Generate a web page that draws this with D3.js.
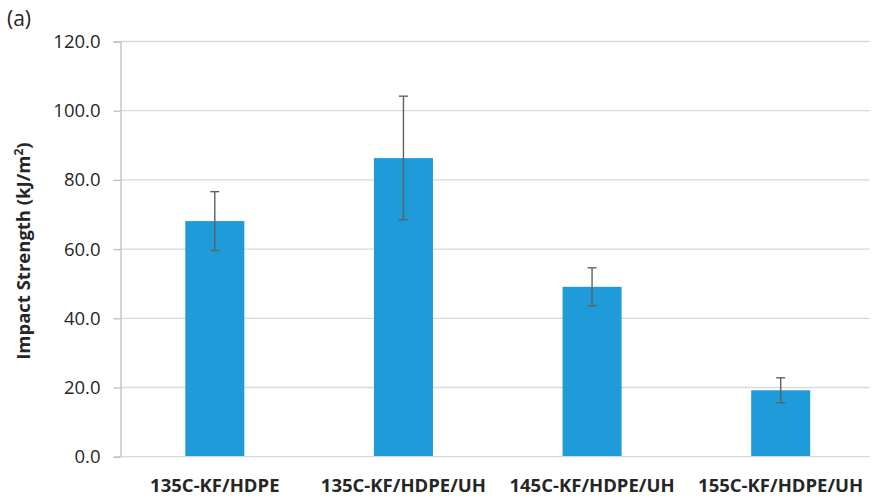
<!DOCTYPE html>
<html>
<head>
<meta charset="utf-8">
<script src="https://cdn.jsdelivr.net/npm/d3@7"></script>
<style>
  html, body { margin: 0; padding: 0; background: #fff; }
  svg { display: block; }
</style>
</head>
<body>
<svg id="chart" width="874" height="501"></svg>
<script>
// Impact strength per processing condition (mean with error range)
const categories = ["135C-KF/HDPE", "135C-KF/HDPE/UH", "145C-KF/HDPE/UH", "155C-KF/HDPE/UH"];
const values = [68.1, 86.3, 49.1, 19.2];
const errLow = [59.6, 68.5, 43.6, 15.6];
const errHigh = [76.6, 104.2, 54.6, 22.8];
const yTicks = [0, 20, 40, 60, 80, 100, 120];

const svg = d3.select("#chart");
const plotLeft = 120.5, plotRight = 875, plotTop = 41.5, plotBottom = 456.7;
const font = "'Open Sans', 'DejaVu Sans', sans-serif";

const x = d3.scaleBand().domain(categories).range([plotLeft, plotRight]).paddingInner(0.687).paddingOuter(0.3435);
const y = d3.scaleLinear().domain([0, 120]).range([plotBottom, plotTop]);

// horizontal gridlines
svg.append("g").selectAll("line").data(yTicks.filter(d => d > 0)).join("line")
  .attr("x1", plotLeft).attr("x2", 870)
  .attr("y1", d => y(d)).attr("y2", d => y(d))
  .attr("stroke", "#d9d9d9").attr("stroke-width", 1.3);

// y axis with outward ticks
const yAxis = d3.axisLeft(y).tickValues(yTicks).tickSize(7).tickPadding(13).tickFormat(d3.format(".1f"));
const gy = svg.append("g").attr("transform", `translate(${plotLeft},0)`).call(yAxis);
gy.attr("font-size", null).attr("font-family", null);
gy.select(".domain").attr("stroke", "#bfbfbf").attr("stroke-width", 1.3);
gy.selectAll(".tick line").attr("stroke", "#bfbfbf").attr("stroke-width", 1.3);
gy.selectAll(".tick text").attr("font-family", font).attr("font-size", 18.5).attr("fill", "#262626");

// bars
svg.append("g").selectAll("rect").data(categories).join("rect")
  .attr("x", d => x(d))
  .attr("width", x.bandwidth())
  .attr("y", (d, i) => y(values[i]))
  .attr("height", (d, i) => y(0) - y(values[i]))
  .attr("fill", "#1e9bd8");

// baseline
svg.append("line").attr("x1", plotLeft).attr("x2", 870).attr("y1", y(0)).attr("y2", y(0))
  .attr("stroke", "#d9d9d9").attr("stroke-width", 1.3);

// error bars
const eg = svg.append("g").attr("stroke", "#5f6163").attr("stroke-width", 1.4);
categories.forEach((c, i) => {
  const cx = x(c) + x.bandwidth() / 2;
  eg.append("line").attr("x1", cx).attr("x2", cx).attr("y1", y(errLow[i])).attr("y2", y(errHigh[i]));
  [errLow[i], errHigh[i]].forEach(v => {
    eg.append("line").attr("x1", cx - 4.5).attr("x2", cx + 4.5).attr("y1", y(v)).attr("y2", y(v));
  });
});

// category labels
svg.append("g").selectAll("text").data(categories).join("text")
  .attr("x", d => x(d) + x.bandwidth() / 2)
  .attr("y", 492)
  .attr("text-anchor", "middle")
  .attr("font-family", font).attr("font-weight", "bold").attr("font-size", 18.5)
  .attr("fill", "#262626")
  .text(d => d);

// y axis title
const yt = svg.append("text")
  .attr("transform", `translate(30,${(plotTop + plotBottom) / 2 + 2}) rotate(-90)`)
  .attr("text-anchor", "middle")
  .attr("font-family", font).attr("font-weight", "bold").attr("font-size", 18.5)
  .attr("fill", "#262626");
yt.append("tspan").text("Impact Strength (kJ/m");
yt.append("tspan").text("2").attr("font-size", 12).attr("dy", -7);
yt.append("tspan").text(")").attr("dy", 7);

// panel label
svg.append("text").attr("x", 7).attr("y", 26)
  .attr("font-family", font).attr("font-size", 21).attr("fill", "#262626")
  .text("(a)");
</script>
</body>
</html>
